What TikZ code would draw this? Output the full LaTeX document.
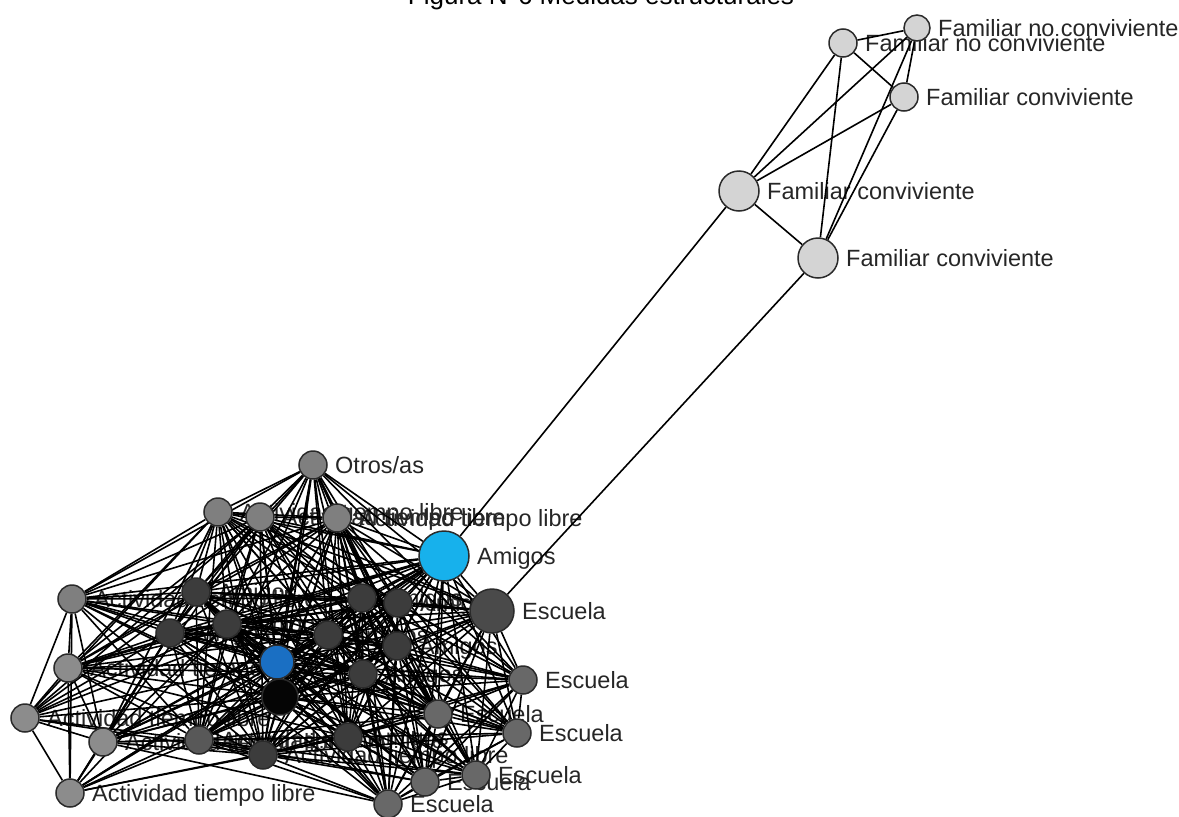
\documentclass[tikz,border=0pt]{standalone}
\usepackage{fontspec}
\setmainfont{Liberation Sans}
\pgfdeclarelayer{txt}
\pgfdeclarelayer{bg}
\pgfsetlayers{txt,bg,main}
\definecolor{fam}{HTML}{D4D4D4}
\definecolor{per1}{HTML}{7F7F7F}
\definecolor{per2}{HTML}{8C8C8C}
\definecolor{core}{HTML}{3C3C3C}
\definecolor{mid}{HTML}{585858}
\definecolor{esc}{HTML}{686868}
\definecolor{escbig}{HTML}{4A4A4A}
\definecolor{cyanA}{HTML}{17B1EC}
\definecolor{blueE}{HTML}{1A6FC3}
\definecolor{egoblack}{HTML}{050505}
\definecolor{rim}{HTML}{2A2A2A}
\tikzset{
  vtx/.style={circle, draw=rim, line width=1.5pt, inner sep=0pt},
  lbl/.style={anchor=base west, inner sep=0pt, text=black!85, font=\fontsize{23.5}{27}\selectfont},
  tie/.style={line width=1.6pt, black},
}
\begin{document}
\begin{tikzpicture}[x=1pt,y=-1pt]
\useasboundingbox (0,0) rectangle (1179,817);
\node[anchor=base, inner sep=0pt, font=\fontsize{26}{30}\selectfont] (title) at (601,4) {Figura N°6 Medidas estructurales};
% family cluster
\foreach \n/\x/\y/\r/\c/\t in {
  f1/917/28/13/fam/{Familiar no conviviente},
  f2/843/43/14/fam/{Familiar no conviviente},
  f3/904/97/14/fam/{Familiar conviviente},
  f4/739/191/20/fam/{Familiar conviviente},
  f5/818/258/20/fam/{Familiar conviviente}}{
  \node[vtx, minimum size=\r*2pt, fill=\c] (\n) at (\x,\y) {};
  \begin{pgfonlayer}{txt}
    \node[lbl] (l\n) at ({\x+\r+8},{\y+8}) {\t};
  \end{pgfonlayer}
}
% main cluster
\foreach \n/\x/\y/\r/\c/\t in {
  b1/313/465/14/per1/{Otros/as},
  b2/218/512/14/per1/{Actividad tiempo libre},
  b3/260/517/14/per1/{Actividad tiempo libre},
  b4/337/518/14/per1/{Actividad tiempo libre},
  b5/444/556/25/cyanA/{Amigos},
  b6/492/611/22/escbig/{Escuela},
  b7/72/599/14/per1/{Actividad tiempo libre},
  b8/196/592/14/core/{Amigos},
  b9/362/598/14/core/{Amigos},
  b10/398/603/14/core/{Amigos},
  b11/170/633/14/core/{Amigos},
  b12/227/624/14/core/{Amigos},
  b13/328/635/14/core/{Amigos},
  b14/397/646/14/core/{Amigos},
  b15/363/674/14/core/{Amigos},
  b16/277/662/17/blueE/{},
  b17/280/697/18/egoblack/{},
  b18/68/668/14/per2/{Actividad tiempo libre},
  b19/25/718/14/per2/{Actividad tiempo libre},
  b20/103/742/14/per2/{Actividad tiempo libre},
  b21/199/740/14/mid/{Actividad tiempo libre},
  b22/263/755/14/core/{Actividad tiempo libre},
  b23/348/737/14/core/{Amigos},
  b24/523/680/14/esc/{Escuela},
  b25/438/714/14/esc/{Escuela},
  b26/517/733/14/esc/{Escuela},
  b27/476/775/14/esc/{Escuela},
  b28/425/782/14/esc/{Escuela},
  b29/388/804/14/esc/{Escuela},
  b30/70/793/14/per2/{Actividad tiempo libre}}{
  \node[vtx, minimum size=\r*2pt, fill=\c] (\n) at (\x,\y) {};
  \begin{pgfonlayer}{txt}
    \node[lbl] (l\n) at ({\x+\r+8},{\y+8}) {\t};
  \end{pgfonlayer}
}
\begin{pgfonlayer}{bg}
  \foreach \a/\b in {f1/f2,f1/f3,f1/f4,f1/f5,f2/f3,f2/f4,f2/f5,f3/f4,f3/f5,f4/f5,f4/b5,f5/b6}{
    \draw[tie] (\a) -- (\b);
  }
  \foreach \i in {1,...,29}{
    \pgfmathtruncatemacro\s{\i+1}
    \foreach \j in {\s,...,30}{
      \pgfpointanchor{b\i}{center}\pgfgetlastxy{\xa}{\ya}
      \pgfpointanchor{b\j}{center}\pgfgetlastxy{\xb}{\yb}
      \pgfmathtruncatemacro\ok{(veclen(\xa-\xb,\ya-\yb)<310) || (\i==5) || (\i==16) || (\i==17) || (\j==5) || (\j==16) || (\j==17)}
      \ifnum\ok=1 \draw[tie] (b\i) -- (b\j); \fi
    }
  }
\end{pgfonlayer}
\end{tikzpicture}
\end{document}
